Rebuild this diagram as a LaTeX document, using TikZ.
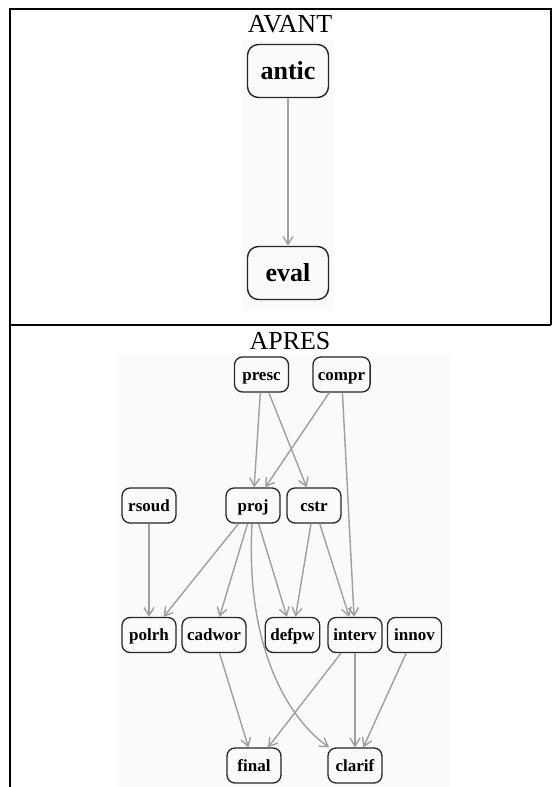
\documentclass[tikz,border=0pt]{standalone}
\usepackage{fontspec}
\setmainfont{Liberation Serif}
\usetikzlibrary{arrows.meta}

\begin{document}
\begin{tikzpicture}[x=1pt,y=-1pt,
    etat/.style={draw=black!85,line width=1.4pt,rounded corners=11pt,minimum width=81pt,minimum height=53pt,inner sep=0pt,text height=17.7pt,text depth=0pt,font=\fontsize{26}{26}\selectfont\bfseries},
    petit/.style={draw=black!85,line width=1.3pt,rounded corners=8pt,minimum width=54pt,minimum height=35pt,inner xsep=5pt,inner ysep=0pt,text height=11.6pt,text depth=0pt,font=\fontsize{17}{17}\selectfont\bfseries},
    lien/.style={draw=gray!75,line width=1.4pt,-{Straight Barb[length=8pt,width=10pt]}},
    titre/.style={inner sep=0pt,font=\fontsize{26}{26}\selectfont}]
    \pgfmathsetmacro{\gauche}{10}
    \pgfmathsetmacro{\droite}{551}
    \pgfmathsetmacro{\haut}{9}
    \pgfmathsetmacro{\milieu}{325}
    \useasboundingbox (0,0) rectangle (558,787);
    % fonds des graphes
    \fill[black!2] (242,40) rectangle (334,310);
    \fill[black!2] (117,355) rectangle (450,787);
    % tableau
    \draw[line width=2pt] (\gauche,787) -- (\gauche,\haut) -- (\droite,\haut) -- (\droite,\milieu);
    \draw[line width=2pt] (\gauche,\milieu) -- (\droite,\milieu);
    \node[titre] (avant) at (290,24) {AVANT};
    \node[titre] (apres) at (290,341) {APRES};
    % avant
    \node[etat] (antic) at (288,71) {antic};
    \node[etat] (eval) at (288,273) {eval};
    \draw[lien] (antic) -- (eval);
    % apres
    \node[petit] (presc) at (261.5,374.5) {presc};
    \node[petit] (compr) at (341.5,374.5) {compr};
    \node[petit] (rsoud) at (149,505.5) {rsoud};
    \node[petit] (proj) at (253,505.5) {proj};
    \node[petit] (cstr) at (314,505.5) {cstr};
    \node[petit] (polrh) at (149,635) {polrh};
    \node[petit] (cadwor) at (214,635) {cadwor};
    \node[petit] (defpw) at (292.5,635) {defpw};
    \node[petit] (interv) at (355,635) {interv};
    \node[petit] (innov) at (414.5,635) {innov};
    \node[petit] (final) at (254,765.5) {final};
    \node[petit] (clarif) at (355,765.5) {clarif};
    \foreach \a/\b in {presc/proj,presc/cstr,compr/proj,compr/interv,rsoud/polrh,proj/polrh,proj/cadwor,proj/defpw,cstr/defpw,cstr/interv,cadwor/final,interv/final,interv/clarif,innov/clarif}
        \draw[lien] (\a) -- (\b);
    \draw[lien] (proj) .. controls (245,650) and (290,720) .. (clarif);
\end{tikzpicture}
\end{document}
